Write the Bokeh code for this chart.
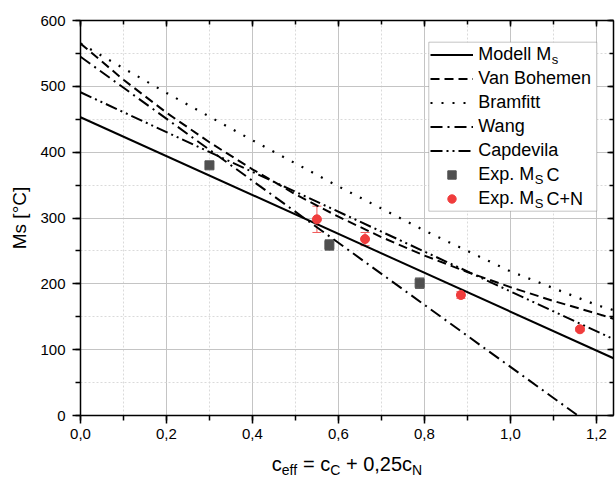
from bokeh.plotting import figure
from bokeh.layouts import column
from bokeh.models import (ColumnDataSource, Range1d, LinearAxis, Whisker, TeeHead,
                          Legend, LegendItem, SingleIntervalTicker, BoxAnnotation,
                          CustomJSTickFormatter)
from bokeh.core.properties import value
from bokeh.embed import file_html
from bokeh.resources import INLINE

# ---------------- data ----------------
model_x = [0.0, 1.24]
model_ms = [453, 87]

vanbohemen_x = [0.0, 0.1, 0.2, 0.3, 0.4, 0.5, 0.6, 0.7, 0.8, 0.9, 1.0, 1.1, 1.2, 1.24]
vanbohemen_ms = [565, 510, 460, 415, 374, 336, 302, 271, 243, 218, 195, 174, 155, 147]

bramfitt_x = [0.0, 0.2, 0.4, 0.6, 0.8, 1.0, 1.2, 1.24]
bramfitt_ms = [565, 490, 418, 348, 281, 219, 168, 160]

wang_x = [0.0, 1.157]
wang_ms = [545, 0]

capdevila_x = [0.0, 1.24]
capdevila_ms = [491, 116]

expc_x = [0.30, 0.579, 0.789]
expc_ms = [380, 259, 201]
expc_err = [3, 8, 8]

expcn_x = [0.55, 0.662, 0.885, 1.162]
expcn_ms = [298, 268, 183, 131]
expcn_err = [20, 10, 5, 3]

legend_labels = ["Modell M", "Van Bohemen", "Bramfitt", "Wang", "Capdevila",
                 "Exp. M", "Exp. M"]
x_ticks_interval = 0.2
y_ticks_interval = 100

# ---------------- layout ----------------
W, H = 616, 479
H1 = 447
BL, BR, BT, BB = 80, 3, 20, 32
X0, X1 = 0.0, 1.24
Y0, Y1 = 0, 600
FONT = "Liberation Sans"

p = figure(width=W, height=H1, x_range=Range1d(X0, X1), y_range=Range1d(Y0, Y1),
           output_backend="svg", toolbar_location=None,
           min_border_left=BL, min_border_right=BR, min_border_top=BT,
           min_border_bottom=BB, background_fill_color="white",
           border_fill_color="white")
p.outline_line_color = None

FW = W - BL - BR
FH = H1 - BT - BB


def px2x(px):
    return X0 + (px - BL) / FW * (X1 - X0)


def py2y(py):
    return Y0 + (BT + FH - py) / FH * (Y1 - Y0)


xt = SingleIntervalTicker(interval=x_ticks_interval, num_minor_ticks=2)
yt = SingleIntervalTicker(interval=y_ticks_interval, num_minor_ticks=2)

p.xaxis.ticker = xt
p.yaxis.ticker = yt
p.xaxis.formatter = CustomJSTickFormatter(code="return tick.toFixed(1).replace('.', ',');")

for ax in (p.xaxis[0], p.yaxis[0]):
    ax.axis_line_width = 1.5
    ax.major_tick_line_width = 1.5
    ax.minor_tick_line_width = 1.5
    ax.major_tick_out = 8
    ax.major_tick_in = 0
    ax.minor_tick_out = 5
    ax.minor_tick_in = 0
    ax.major_label_text_font = FONT
    ax.major_label_text_font_size = "15px"
    ax.major_label_text_color = "black"
p.xaxis.major_label_standoff = 5
p.yaxis.major_label_standoff = 7

p.yaxis.axis_label = "Ms [°C]"
p.yaxis.axis_label_text_font = FONT
p.yaxis.axis_label_text_font_size = "19px"
p.yaxis.axis_label_text_font_style = "normal"
p.yaxis.axis_label_text_color = "black"
p.yaxis.axis_label_standoff = 7

for ax, place, tk in ((LinearAxis(), "above", xt), (LinearAxis(), "right", yt)):
    ax.ticker = tk
    ax.formatter = CustomJSTickFormatter(code="return '';")
    ax.major_label_standoff = 0
    ax.major_tick_in = 6
    ax.major_tick_out = 0
    ax.minor_tick_in = 4
    ax.minor_tick_out = 0
    ax.axis_line_width = 1.5
    ax.major_tick_line_width = 1.5
    ax.minor_tick_line_width = 1.5
    p.add_layout(ax, place)

for g in (p.xgrid[0], p.ygrid[0]):
    g.grid_line_color = "#c4c4c4"
    g.grid_line_width = 1
    g.minor_grid_line_color = "#dadada"
    g.minor_grid_line_dash = "2 2"
    g.minor_grid_line_width = 1
p.xgrid.ticker = xt
p.ygrid.ticker = yt

# ---------------- legend geometry ----------------
LEG_LEFT, LEG_TOP = 428.3, 41.7
PAD, GW, GH, SP, STAND, LW = 2, 43, 21, 3, 5, 116
LS, SS = 18, 13
n_items = len(legend_labels)
leg_h = 2 * PAD + n_items * GH + (n_items - 1) * SP
leg_w = 2 * PAD + GW + STAND + LW

# white legend panel (under the glyphs)
p.add_layout(BoxAnnotation(left=px2x(LEG_LEFT), right=px2x(LEG_LEFT + leg_w),
                           top=py2y(LEG_TOP), bottom=py2y(LEG_TOP + leg_h),
                           fill_color="white", fill_alpha=1.0,
                           line_color="#404040", line_width=1, level="underlay"))

# ---------------- lines ----------------
r_model = p.line(model_x, model_ms, line_color="black", line_width=2)
r_vb = p.line(vanbohemen_x, vanbohemen_ms, line_color="black", line_width=2, line_dash="9 5")
r_br = p.line(bramfitt_x, bramfitt_ms, line_color="black", line_width=2.2, line_dash="2 9")
r_wang = p.line(wang_x, wang_ms, line_color="black", line_width=2, line_dash="12 5 2 5")
r_cap = p.line(capdevila_x, capdevila_ms, line_color="black", line_width=2,
               line_dash="12 4 2 4 2 4")

# ---------------- experimental points ----------------
GRAY = "#505050"
RED = "#f03c3c"
src_c = ColumnDataSource(dict(x=expc_x, y=expc_ms,
                              lo=[m - e for m, e in zip(expc_ms, expc_err)],
                              hi=[m + e for m, e in zip(expc_ms, expc_err)]))
src_cn = ColumnDataSource(dict(x=expcn_x, y=expcn_ms,
                               lo=[m - e for m, e in zip(expcn_ms, expcn_err)],
                               hi=[m + e for m, e in zip(expcn_ms, expcn_err)]))

p.add_layout(Whisker(base="x", upper="hi", lower="lo", source=src_c, level="underlay",
                     line_color="#606060", line_width=1,
                     upper_head=TeeHead(size=9, line_color="#606060", line_width=1),
                     lower_head=TeeHead(size=9, line_color="#606060", line_width=1)))
p.add_layout(Whisker(base="x", upper="hi", lower="lo", source=src_cn, level="underlay",
                     line_color="#f05a5a", line_width=1,
                     upper_head=TeeHead(size=9, line_color="#f05a5a", line_width=1),
                     lower_head=TeeHead(size=9, line_color="#f05a5a", line_width=1)))

r_c = p.scatter("x", "y", source=src_c, marker="square", size=9,
                fill_color=GRAY, line_color=GRAY)
r_cn = p.scatter("x", "y", source=src_cn, marker="circle", size=9,
                 fill_color=RED, line_color=RED)

# ---------------- legend ----------------
renderers = [r_model, r_vb, r_br, r_wang, r_cap, r_c, r_cn]
leg = Legend(items=[LegendItem(label=value(t), renderers=[r])
                    for t, r in zip(legend_labels, renderers)],
             location=(LEG_LEFT - BL, (BT + FH) - (LEG_TOP + leg_h)),
             padding=PAD, spacing=SP, glyph_width=GW, glyph_height=GH,
             label_height=GH, label_width=LW, label_standoff=STAND,
             label_text_font=FONT, label_text_font_size=f"{LS}px",
             label_text_color="black", margin=0,
             border_line_alpha=0, background_fill_alpha=0)
p.add_layout(leg)

# subscripts and tails of the legend entries
TX = LEG_LEFT + PAD + GW + STAND
rows = [LEG_TOP + PAD + GH / 2 + i * (GH + SP) for i in range(n_items)]
sub_src = ColumnDataSource(dict(
    x=[px2x(TX + 4.056 * LS), px2x(TX + 3.112 * LS), px2x(TX + 3.112 * LS)],
    y=[py2y(rows[0] + 5), py2y(rows[5] + 5), py2y(rows[6] + 5)],
    t=["s", "S", "S"]))
tail_src = ColumnDataSource(dict(
    x=[px2x(TX + 3.112 * LS + 0.667 * SS + 3)] * 2,
    y=[py2y(rows[5]), py2y(rows[6])],
    t=["C", "C+N"]))
p.text("x", "y", text="t", source=sub_src, text_font=value(FONT),
       text_font_size=f"{SS}px", text_baseline="middle", text_align="left",
       text_color="black")
p.text("x", "y", text="t", source=tail_src, text_font=value(FONT),
       text_font_size=f"{LS}px", text_baseline="middle", text_align="left",
       text_color="black")

# ---------------- x axis title (strip below, frame aligned with the plot) ----------------
H2 = H - H1
p2 = figure(width=W, height=H2, x_range=p.x_range, y_range=Range1d(0, H2),
            output_backend="svg", toolbar_location=None,
            x_axis_type=None, y_axis_type=None,
            min_border_left=BL, min_border_right=BR, min_border_top=0,
            min_border_bottom=0, background_fill_color="white",
            border_fill_color="white")
p2.outline_line_color = None
p2.xgrid.visible = False
p2.ygrid.visible = False

MS, SB = 20, 14
TY = 463 - H1          # distance from the top of the strip
x0 = BL + FW / 2 - 75.2
main_src = ColumnDataSource(dict(x=[px2x(x0), px2x(x0 + 31.1), px2x(x0 + 74.1)],
                                 y=[H2 - TY] * 3,
                                 t=["c", "= c", "+ 0,25c"]))
subx_src = ColumnDataSource(dict(x=[px2x(x0 + 10), px2x(x0 + 58.4), px2x(x0 + 140.2)],
                                 y=[H2 - TY - 6] * 3,
                                 t=["eff", "C", "N"]))
p2.text("x", "y", text="t", source=main_src, text_font=value(FONT),
        text_font_size=f"{MS}px", text_baseline="middle", text_align="left",
        text_color="black")
p2.text("x", "y", text="t", source=subx_src, text_font=value(FONT),
        text_font_size=f"{SB}px", text_baseline="middle", text_align="left",
        text_color="black")

layout = column(p, p2, spacing=0)
open("out.html", "w").write(file_html(layout, INLINE))
